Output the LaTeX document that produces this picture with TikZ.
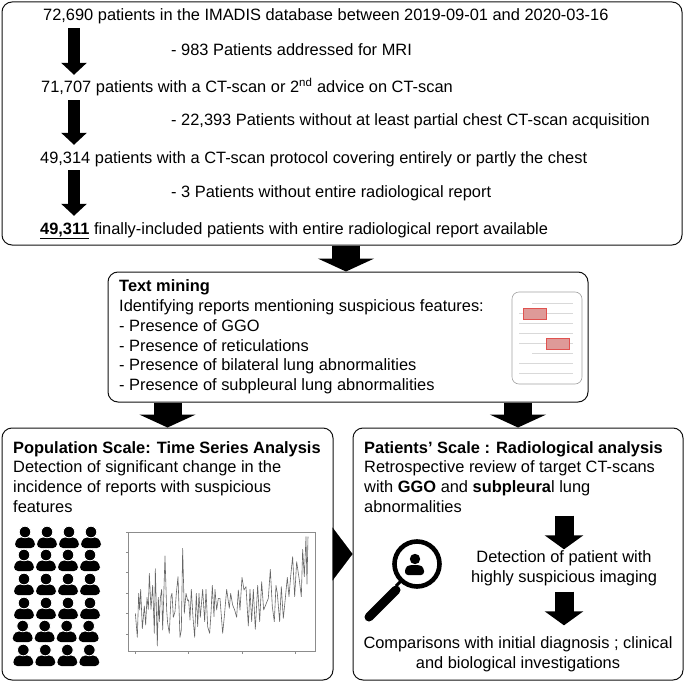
\documentclass[tikz,border=0pt]{standalone}
\usepackage{fontspec}
\setmainfont{Liberation Sans}
\usetikzlibrary{arrows.meta,positioning,calc}
\definecolor{flInk}{HTML}{111111}
\definecolor{flGrey}{HTML}{8C8C8C}
\definecolor{flLine}{HTML}{D9D9D9}
\definecolor{flRed}{HTML}{E0524F}
\definecolor{flRose}{HTML}{DE9A98}
\tikzset{
  flowbox/.style={draw=flInk, fill=white, rounded corners=10pt, line width=1pt, inner sep=0pt},
  txt/.style={font=\fontsize{16.4}{19.7}\selectfont, inner sep=0pt, align=left, text=black},
  ctxt/.style={txt, align=center},
  row/.style={txt, anchor=west, text height=12pt, text depth=4pt, inner ysep=2pt},
  smallarr/.style={-{Triangle[length=12pt,width=25pt]}, line width=12pt, draw=black},
  medarr/.style={-{Triangle[length=14pt,width=38pt]}, line width=19pt, draw=black},
  bigarr/.style={-{Triangle[length=13pt,width=56pt]}, line width=28pt, draw=black},
  sidearr/.style={-{Triangle[length=20pt,width=53pt]}, line width=0.1pt, draw=black},
  hit/.style={draw=flRed, fill=flRose, line width=0.8pt, minimum width=23pt, minimum height=11pt, inner sep=0pt},
  person/.pic={
    \fill[black, rounded corners=4pt] (-10,16) -- (-10,8.5) -- (-4.5,5) -- (4.5,5) -- (10,8.5) -- (10,16) -- cycle;
    \fill[black, draw=white, line width=0.8pt] (0,0) circle (5.8);
  },
}
\begin{document}
\begin{tikzpicture}[x=1pt,y=-1pt]
  \useasboundingbox (0,0) rectangle (685,682);
  \node[flowbox, minimum width=680pt, minimum height=243pt] (top) at (342,123.5) {};
  \node[flowbox, minimum width=480pt, minimum height=130pt] (mine) at (348,337) {};
  \node[flowbox, minimum width=331pt, minimum height=252pt] (pop) at (167.5,554) {};
  \node[flowbox, minimum width=330pt, minimum height=252pt] (pat) at (518,554) {};
  \coordinate (arrx) at (74,0);
  \coordinate (midx) at (346,0);
  \node[row] (l1) at (43,17) {72,690 patients in the IMADIS database between 2019-09-01 and 2020-03-16};
  \node[row] (m1) at (171,52) {- 983 Patients addressed for MRI};
  \node[row] (l2) at (41,89) {71,707 patients with a CT-scan or 2\textsuperscript{nd} advice on CT-scan};
  \node[row] (m2) at (171,122) {- 22,393 Patients without at least partial chest CT-scan acquisition};
  \node[row] (l3) at (40,159) {49,314 patients with a CT-scan protocol covering entirely or partly the chest};
  \node[row] (m3) at (171,193) {- 3 Patients without entire radiological report};
  \node[row] (l4) at (40,230) {\underline{\textbf{49,311}} finally-included patients with entire radiological report available};
  \foreach \u/\v in {l1/l2,l2/l3,l3/l4}
    \draw[smallarr, shorten <=1pt, shorten >=4pt] (\u.south -| arrx) -- (\v.north -| arrx);
  \draw[bigarr] (top.south -| midx) -- (mine.north -| midx);
  \draw[bigarr] (mine.south -| pop.north) -- (pop.north);
  \draw[bigarr] (mine.south -| pat.north) -- (pat.north);
  \draw[sidearr] (pop.east) -- (pat.west);
  \node[txt, anchor=west] (minetxt) at (119,337) {\textbf{Text mining}\\Identifying reports mentioning suspicious features:\\- Presence of GGO\\- Presence of reticulations\\- Presence of bilateral lung abnormalities\\- Presence of subpleural lung abnormalities};
  \node[draw=flGrey!80, fill=white, rounded corners=7pt, line width=0.6pt, minimum width=70pt, minimum height=92pt, inner sep=0pt] (doc) at (547,338) {};
  \foreach \y/\x in {303.5/532,313.5/519,323.5/519,333/519,343.5/519,353.5/532,363/519,373.5/519}
    \draw[flLine, line width=0.8pt] (\x,\y) -- (573,\y);
  \node[hit] (hit1) at (534.5,313.5) {};
  \node[hit] (hit2) at (557.5,343.5) {};
  \node[txt, anchor=north west] (poptxt) at (13,441) {\textbf{Population Scale: Time Series Analysis}\\Detection of significant change in the\\incidence of reports with suspicious\\features};
  \foreach \y/\x in {532/25,555/24,579/24,603/24,626/22.7,650/23.3}
    \foreach \c in {0,1,2,3}
      \pic at ({\x+22*\c},\y) {person};
  \draw[flGrey, line width=0.8pt] (128,532) rectangle (315,651);
  \foreach \y in {532,552.5,572.5,593,613.5,634}
    \draw[flGrey, line width=0.5pt] (126,\y) -- (128,\y);
  \foreach \x in {135,188.5,242.5,295}
    \draw[flGrey, line width=0.5pt] (\x,651) -- (\x,653.5);
  \begin{scope}[shift={(125,530)},x=0.3333pt,y=-0.3333pt]
    \draw[black!60, line width=0.6pt, line join=round] plot coordinates {
      (31,250)(37,322)(41,190)(44,240)(47,178)(52,296)(58,228)(62,285)(66,202)(70,238)
      (73,130)(78,238)(83,166)(88,310)(91,116)(97,348)(100,202)(103,275)(106,205)(110,178)
      (113,300)(120,78)(125,240)(128,280)(133,310)(138,200)(141,190)(145,262)(150,245)(154,190)
      (159,140)(165,322)(169,300)(173,55)(178,250)(183,190)(188,212)(191,210)(195,270)(199,178)
      (204,262)(209,322)(214,190)(218,290)(222,190)(226,262)(233,178)(239,275)(243,178)(248,290)
      (254,310)(258,250)(262,166)(267,260)(270,178)(275,240)(280,205)(285,205)(293,310)(298,260)
      (305,178)(313,235)(317,190)(323,225)(329,240)(335,262)(340,180)(345,240)(351,142)(357,180)
      (363,170)(370,288)(375,178)(380,275)(385,178)(391,298)(398,166)(404,275)(410,155)(416,240)
      (422,225)(430,205)(436,118)(442,230)(448,275)(453,166)(457,190)(464,275)(469,170)(475,265)
      (481,205)(487,142)(492,200)(497,140)(503,80)(509,200)(515,95)(523,150)(529,200)(533,58)
      (538,140)(543,20)(546,162)(549,20)};
  \end{scope}
  \node[txt, anchor=north west] (pattxt) at (364,441) {\textbf{Patients’ Scale : Radiological analysis}\\Retrospective review of target CT-scans\\with \textbf{GGO} and \textbf{subpleura}l lung\\abnormalities};
  \node[ctxt] (det) at (564,568) {Detection of patient with\\highly suspicious imaging};
  \node[ctxt] (cmp) at (518,654) {Comparisons with initial diagnosis ; clinical\\and biological investigations};
  \draw[medarr, shorten <=3pt, shorten >=1pt] (pattxt.south -| det.north) -- (det.north);
  \draw[medarr, shorten <=6pt, shorten >=11pt] (det.south) -- (det.south |- cmp.north);
  \draw[black, line width=4.6pt, fill=white] (417,564) circle (22.5);
  \draw[black, line width=3pt] (401,581) -- (396,586);
  \draw[black, line width=9pt, line cap=round] (396,590) -- (369,617);
  \fill[black] (415,559) circle (5.2);
  \fill[black, rounded corners=3pt] (405,575) -- (405,568) -- (409,565) -- (420,565) -- (424,568) -- (424,575) -- cycle;
\end{tikzpicture}
\end{document}
